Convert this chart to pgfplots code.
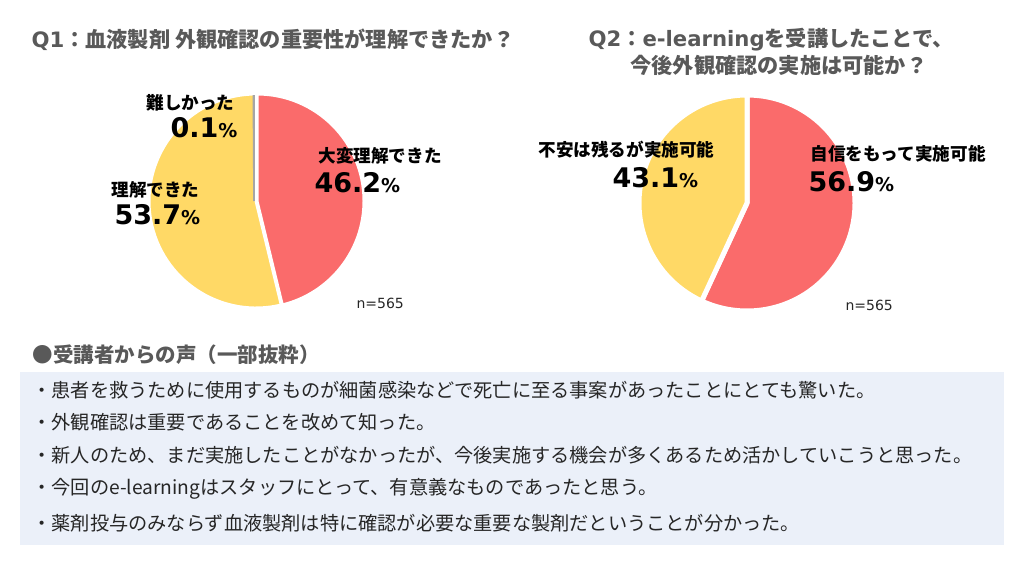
\documentclass[border=0pt]{standalone}
\usepackage{pgfplots}
\pgfplotsset{compat=1.18}
\usepackage{pgfplotstable}
\usepackage{fontspec}
\setmainfont{Noto Sans CJK JP}
\newfontfamily\vd{DejaVu Sans}

\definecolor{pred}{RGB}{250,107,107}
\definecolor{pyel}{RGB}{255,217,102}
\definecolor{pgray}{RGB}{166,166,166}
\definecolor{ttl}{RGB}{89,89,89}
\definecolor{boxbg}{RGB}{235,240,249}
\definecolor{txt}{RGB}{38,38,38}

% Q1: 大変理解できた, 理解できた, 難しかった
\pgfplotstableread{
pct
46.2
53.7
0.1
}\qone
% Q2: 自信をもって実施可能, 不安は残るが実施可能
\pgfplotstableread{
pct
56.9
43.1
}\qtwo

\newcommand{\fs}[1]{\fontsize{#1}{#1}\selectfont}

\begin{document}%
\begin{tikzpicture}
\pgfplotstablegetelem{0}{pct}\of\qone \let\qoa\pgfplotsretval
\pgfplotstablegetelem{1}{pct}\of\qone \let\qob\pgfplotsretval
\pgfplotstablegetelem{2}{pct}\of\qone \let\qoc\pgfplotsretval
\pgfplotstablegetelem{0}{pct}\of\qtwo \let\qta\pgfplotsretval
\pgfplotstablegetelem{1}{pct}\of\qtwo \let\qtb\pgfplotsretval
\pgfmathsetmacro{\oA}{90-3.6*\qoa}
\pgfmathsetmacro{\oB}{\oA-3.6*\qob}
\pgfmathsetmacro{\oC}{\oB-3.6*\qoc}
\pgfmathsetmacro{\tA}{90-3.6*\qta}
\pgfmathsetmacro{\tB}{\tA-3.6*\qtb}
\begin{axis}[at={(0,0)}, anchor=south west, width=1024pt, height=572pt,
  scale only axis, hide axis, xmin=0, xmax=1024, ymin=0, ymax=572,
  y dir=reverse, clip=true,
  every node/.append style={inner sep=0}]

% ---------- Q1 pie ----------
  \fill[pred, draw=white, line width=3pt, line join=round]
    (axis cs:257,201) -- +(90:107pt) arc[start angle=90, end angle=\oA, radius=107pt] -- cycle;
  \fill[pyel, draw=white, line width=3pt, line join=round]
    (axis cs:256,201) -- +(\oA:107pt) arc[start angle=\oA, end angle=\oB, radius=107pt] -- cycle;
  \fill[pgray, draw=pgray, line width=1.6pt]
    (axis cs:254,201) -- +(\oB:105pt) arc[start angle=\oB, end angle=\oC, radius=105pt] -- cycle;

% ---------- Q2 pie ----------
  \fill[pred, draw=white, line width=5pt, line join=round]
    (axis cs:747,203) -- +(90:108pt) arc[start angle=90, end angle=\tA, radius=108pt] -- cycle;
  \fill[pyel, draw=white, line width=5pt, line join=round]
    (axis cs:747,203) -- +(\tA:108pt) arc[start angle=\tA, end angle=\tB, radius=108pt] -- cycle;

% ---------- titles ----------
  \node[anchor=west, text=ttl] at (axis cs:28,40)
    {\fs{21.2}\bfseries{\vd Q1}：血液製剤 外観確認の重要性が理解できたか？};
  \node[anchor=west, text=ttl] at (axis cs:585,40)
    {\fs{21.2}\bfseries{\vd Q2}：{\vd e-learning}を受講したことで、};
  \node[anchor=west, text=ttl] at (axis cs:627,65)
    {\fs{21.2}\bfseries 今後外観確認の実施は可能か？};

% ---------- Q1 labels ----------
  \node[anchor=east] at (axis cs:238,103) {\fs{17.6}\bfseries 難しかった};
  \node[anchor=east] at (axis cs:241,128) {\vd\bfseries\fs{27}0.1\fs{19}\%};
  \node[anchor=west] at (axis cs:315,156) {\fs{17.6}\bfseries 大変理解できた};
  \node[anchor=west] at (axis cs:311,183) {\vd\bfseries\fs{27}46.2\fs{19}\%};
  \node[anchor=west] at (axis cs:108,190) {\fs{17.6}\bfseries 理解できた};
  \node[anchor=west] at (axis cs:111,215) {\vd\bfseries\fs{27}53.7\fs{19}\%};
  \node[anchor=west, text=txt] at (axis cs:353,303) {\vd\fs{14}n=565};

% ---------- Q2 labels ----------
  \node[anchor=west] at (axis cs:535,150) {\fs{17.6}\bfseries 不安は残るが実施可能};
  \node[anchor=west] at (axis cs:609,178) {\vd\bfseries\fs{27}43.1\fs{19}\%};
  \node[anchor=west] at (axis cs:807,154) {\fs{17.6}\bfseries 自信をもって実施可能};
  \node[anchor=west] at (axis cs:805,182) {\vd\bfseries\fs{27}56.9\fs{19}\%};
  \node[anchor=west, text=txt] at (axis cs:842,305) {\vd\fs{14}n=565};

% ---------- comments ----------
  \node[anchor=west, text=ttl] at (axis cs:29,355)
    {\fs{20.5}\bfseries ●受講者からの声（一部抜粋）};
  \fill[boxbg] (axis cs:20,372) rectangle (axis cs:1004,545);
  \node[anchor=west, text=txt] at (axis cs:29,390) {\fs{19.2}・患者を救うために使用するものが細菌感染などで死亡に至る事案があったことにとても驚いた。};
  \node[anchor=west, text=txt] at (axis cs:29,422) {\fs{19.2}・外観確認は重要であることを改めて知った。};
  \node[anchor=west, text=txt] at (axis cs:29,455) {\fs{19.2}・新人のため、まだ実施したことがなかったが、今後実施する機会が多くあるため活かしていこうと思った。};
  \node[anchor=west, text=txt] at (axis cs:29,489) {\fs{19.2}・今回のe-learningはスタッフにとって、有意義なものであったと思う。};
  \node[anchor=west, text=txt] at (axis cs:29,523) {\fs{19.2}・薬剤投与のみならず血液製剤は特に確認が必要な重要な製剤だということが分かった。};
\end{axis}
\pgfresetboundingbox
\path[use as bounding box] (0,0) rectangle (1024pt,572pt);
\end{tikzpicture}%
\end{document}
